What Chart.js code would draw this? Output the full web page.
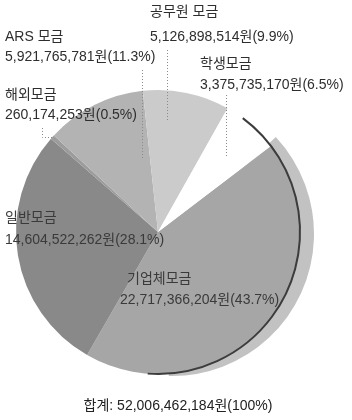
<!DOCTYPE html>
<html>
<head>
<meta charset="utf-8">
<script src="https://cdn.jsdelivr.net/npm/chart.js@4/dist/chart.umd.min.js"></script>
<style>
  html, body { margin: 0; padding: 0; background: #fff; }
  #wrap { width: 352px; height: 420px; }
</style>
</head>
<body>
<div id="wrap"><canvas id="pieChart" width="352" height="420"></canvas></div>
<script>
const categories = ["기업체모금", "일반모금", "해외모금", "ARS 모금", "공무원 모금", "학생모금"];
const amounts = [22717366204, 14604522262, 260174253, 5921765781, 5126898514, 3375735170];
const percentLabels = ["43.7%", "28.1%", "0.5%", "11.3%", "9.9%", "6.5%"];
const totalLabel = "합계: 52,006,462,184원(100%)";

const sliceColors = ["#a6a6a6", "#898989", "#9c9c9c", "#b3b3b3", "#cbcbcb", "#ffffff"];

const FONT = '14px "Liberation Sans", "Noto Sans CJK KR", sans-serif';
const fmt = n => n.toLocaleString("en-US");

// where each label block sits: [x, y of first line, y of second line]
const labelPos = [
  [120, 279, 300],
  [5, 218, 240],
  [5, 95, 115],
  [5, 37, 57],
  [150, 12, 37],
  [200, 64, 85]
];

// side rim of the big slice + dark edge
const rimPlugin = {
  id: "rim",
  beforeDatasetsDraw(chart) {
    const arc = chart.getDatasetMeta(0).data[0];
    const ctx = chart.ctx;
    ctx.save();
    ctx.fillStyle = "#c2c2c2";
    ctx.beginPath();
    ctx.moveTo(arc.x + 14, arc.y + 2);
    ctx.arc(arc.x + 14, arc.y + 2, arc.outerRadius, arc.startAngle - 0.1, arc.endAngle - 0.5);
    ctx.closePath();
    ctx.fill();
    ctx.restore();
  },
  afterDatasetsDraw(chart) {
    const arc = chart.getDatasetMeta(0).data[0];
    const ctx = chart.ctx;
    ctx.save();
    ctx.strokeStyle = "#3c3c3c";
    ctx.lineWidth = 2;
    ctx.beginPath();
    ctx.arc(arc.x, arc.y, arc.outerRadius, arc.startAngle - 0.28, arc.endAngle - 0.45);
    ctx.stroke();
    ctx.restore();
  }
};

// category names, amounts, dotted leaders and the total line
const labelPlugin = {
  id: "labels",
  afterDraw(chart) {
    const ctx = chart.ctx;
    const arcs = chart.getDatasetMeta(0).data;
    ctx.save();

    ctx.strokeStyle = "#8a8a8a";
    ctx.lineWidth = 1;
    ctx.setLineDash([1, 2]);
    ctx.beginPath();
    ctx.moveTo(142.5, 70); ctx.lineTo(142.5, 160);   // ARS
    ctx.moveTo(167.5, 50); ctx.lineTo(167.5, 120);   // 공무원
    ctx.moveTo(226.5, 95); ctx.lineTo(226.5, 157);   // 학생
    const a = arcs[2];
    const mid = (a.startAngle + a.endAngle) / 2;
    const ex = a.x + Math.cos(mid) * a.outerRadius;
    const ey = a.y + Math.sin(mid) * a.outerRadius;
    ctx.moveTo(42.5, 128); ctx.lineTo(42.5, Math.round(ey) + 0.5); ctx.lineTo(ex, Math.round(ey) + 0.5);
    ctx.stroke();
    ctx.setLineDash([]);

    ctx.font = FONT;
    ctx.textBaseline = "middle";
    ctx.textAlign = "left";
    categories.forEach((name, i) => {
      const [x, y1, y2] = labelPos[i];
      ctx.fillStyle = (i === 0 || i === 1) ? "#3a3a3a" : "#2e2e2e";
      ctx.fillText(name, i === 0 ? x + 7 : x, y1);
      ctx.fillText(fmt(amounts[i]) + "원(" + percentLabels[i] + ")", x, y2);
    });

    ctx.fillStyle = "#222";
    ctx.textAlign = "center";
    ctx.fillText(totalLabel, 178, 406);
    ctx.restore();
  }
};

new Chart(document.getElementById("pieChart"), {
  type: "pie",
  data: {
    labels: categories,
    datasets: [{
      data: amounts,
      backgroundColor: sliceColors,
      borderWidth: 0,
      hoverOffset: 0
    }]
  },
  options: {
    responsive: false,
    animation: false,
    rotation: 52.7,
    layout: { padding: { left: 16, right: 52, top: 90, bottom: 46 } },
    plugins: {
      legend: { display: false },
      tooltip: { enabled: false }
    }
  },
  plugins: [rimPlugin, labelPlugin]
});
</script>
</body>
</html>
